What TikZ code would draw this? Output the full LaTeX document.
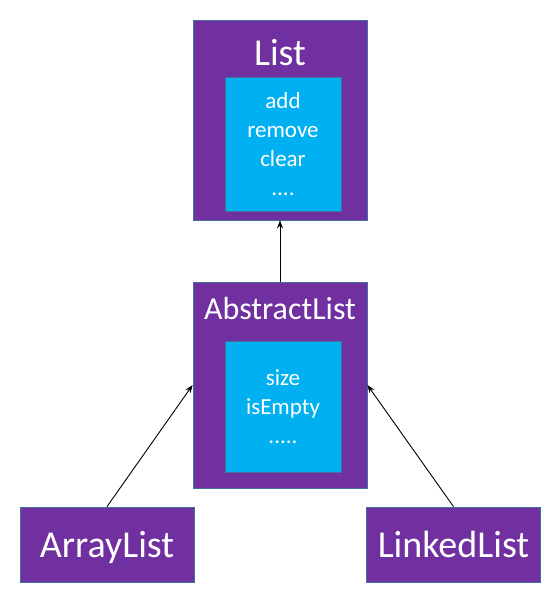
\documentclass[tikz,border=0pt]{standalone}
\usepackage{fontspec}
\setmainfont{Carlito}
\usetikzlibrary{arrows.meta,positioning}
\definecolor{umlpurple}{HTML}{7030A0}
\definecolor{umlcyan}{HTML}{00B0F0}
\definecolor{boxline}{HTML}{41719C}
\begin{document}
\begin{tikzpicture}[x=1pt,y=-1pt, >={Stealth[length=8pt,width=6pt]},
  cls/.style={draw=boxline,line width=0.8pt,fill=umlpurple,inner sep=0pt,minimum width=174pt},
  ttl/.style={text=white,inner sep=0pt,anchor=base,font=\fontsize{38pt}{42pt}\selectfont},
  ops/.style={draw=boxline,line width=0.8pt,fill=umlcyan,text=white,align=center,inner sep=0pt,
    minimum width=116pt,font=\fontsize{23pt}{29pt}\selectfont},
  inh/.style={->,line width=0.9pt}]
  \useasboundingbox (0,0) rectangle (557,600);
  % interface
  \node[cls,minimum height=200pt] (list) at (280,120) {};
  \node[ttl] (listname) at (280,65) {List};
  \node[ops,minimum height=134pt] (listops) at (283,144) {add\\remove\\clear\\....};
  % abstract class
  \node[cls,minimum height=206pt] (abs) at (280,385) {};
  \node[ttl,font=\fontsize{32pt}{36pt}\selectfont] (absname) at (280,319) {AbstractList};
  \node[ops,minimum height=131pt] (absops) at (283,406.5) {size\\isEmpty\\.....};
  % concrete classes
  \node[cls,minimum height=75pt] (arr) at (107,544.5) {};
  \node[ttl] (arrname) at (107,557) {ArrayList};
  \node[cls,minimum height=75pt] (lnk) at (453.5,544.5) {};
  \node[ttl] (lnkname) at (453.5,557) {LinkedList};
  \draw[inh] (abs.north) -- (list.south);
  \draw[inh] (arr.north) -- (abs.west);
  \draw[inh] (lnk.north) -- (abs.east);
\end{tikzpicture}
\end{document}
